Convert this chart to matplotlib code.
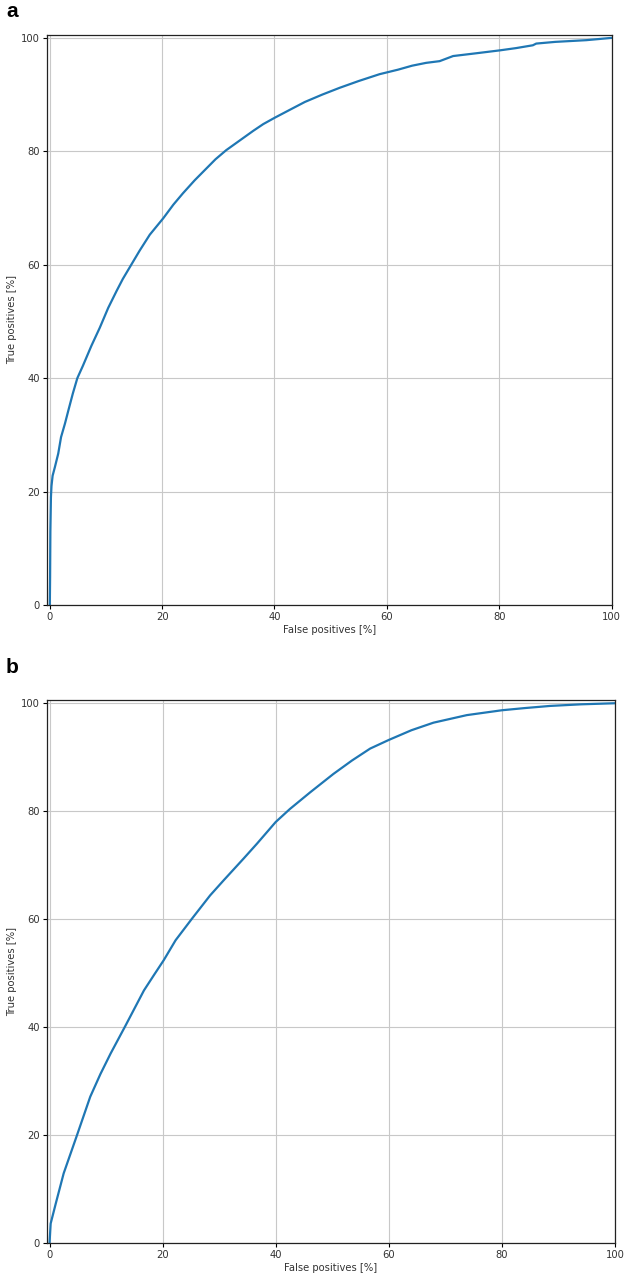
import matplotlib
matplotlib.use("Agg")
import matplotlib.pyplot as plt

# Panel a ROC curve
fpr_a = [0, 0.05, 0.1, 0.2, 0.3, 0.5, 0.9, 1.5, 2.0, 2.7, 3.3, 4.1, 4.9, 5.9, 7.4, 8.9,
         10.4, 11.0, 11.9, 13.0, 14.2, 16.0, 17.8, 20.2, 22.0, 23.7, 25.8, 27.9, 29.5,
         31.4, 33.8, 36.2, 38.0, 40.0, 42.5, 45.4, 48.5, 51.6, 55.0, 58.7, 62.0, 64.5,
         67.0, 69.4, 71.8, 76.0, 80.1, 83.0, 86.0, 86.6, 90.0, 95.5, 100]
tpr_a = [0, 5, 13, 19, 21, 22.8, 24.3, 26.7, 29.6, 32.0, 34.3, 37.3, 40.0, 42.2, 45.7,
         48.9, 52.4, 53.6, 55.4, 57.5, 59.5, 62.5, 65.3, 68.2, 70.6, 72.6, 74.9, 77.0,
         78.6, 80.2, 81.9, 83.6, 84.8, 85.9, 87.2, 88.7, 90.0, 91.2, 92.4, 93.6, 94.4,
         95.1, 95.6, 95.9, 96.8, 97.3, 97.8, 98.2, 98.7, 99.0, 99.3, 99.6, 100]

# Panel b ROC curve
fpr_b = [0, 0.2, 1.1, 2.5, 4.8, 7.2, 9.0, 10.8, 13.4, 16.7, 18.5, 20.2, 22.3, 25.2, 28.4,
         30.8, 34.3, 36.7, 40.0, 42.5, 46.1, 50.2, 53.5, 56.7, 60.0, 64.0, 67.9, 73.8,
         80.0, 84.0, 88.5, 94.0, 100]
tpr_b = [0, 3.6, 7.3, 12.9, 19.8, 27.1, 31.3, 35.1, 40.2, 46.8, 49.7, 52.4, 56.1, 60.1,
         64.4, 67.2, 71.2, 74.0, 78.0, 80.4, 83.5, 86.9, 89.4, 91.6, 93.2, 95.0, 96.4,
         97.8, 98.7, 99.1, 99.5, 99.8, 100]

ticks = [0, 20, 40, 60, 80, 100]
xlabel = "False positives [%]"
ylabel = "True positives [%]"

W, H = 626, 1279
fig = plt.figure(figsize=(W / 100, H / 100), dpi=100)

def px_axes(l, r, t, b):
    return [l / W, 1 - b / H, (r - l) / W, (b - t) / H]

ax_a = fig.add_axes(px_axes(47, 611.5, 34.5, 605))
ax_b = fig.add_axes(px_axes(46.7, 615, 700, 1243))

for ax, x, y in [(ax_a, fpr_a, tpr_a), (ax_b, fpr_b, tpr_b)]:
    ax.plot(x, y, color="#1f77b4", lw=1.6)
    ax.set_xlim(-0.5, 100)
    ax.set_ylim(0, 100.6)
    ax.set_xticks(ticks)
    ax.set_yticks(ticks)
    ax.grid(True, color="#c8c8c8", lw=0.8)
    ax.tick_params(labelsize=7.2, length=3, width=0.8, pad=2, labelcolor="#333333")
    ax.set_xlabel(xlabel, fontsize=7.2, labelpad=2, color="#333333")
    ax.set_ylabel(ylabel, fontsize=7.2, labelpad=3, color="#333333")
    for s in ax.spines.values():
        s.set_linewidth(0.9)
        s.set_color("#222222")

fig.text(6 / W, 1 - 17 / H, "a", fontsize=15, fontweight="bold",
         family="Liberation Sans", va="baseline", ha="left")
fig.text(6 / W, 1 - 673 / H, "b", fontsize=15, fontweight="bold",
         family="Liberation Sans", va="baseline", ha="left")

fig.savefig("out.png", dpi=100)
